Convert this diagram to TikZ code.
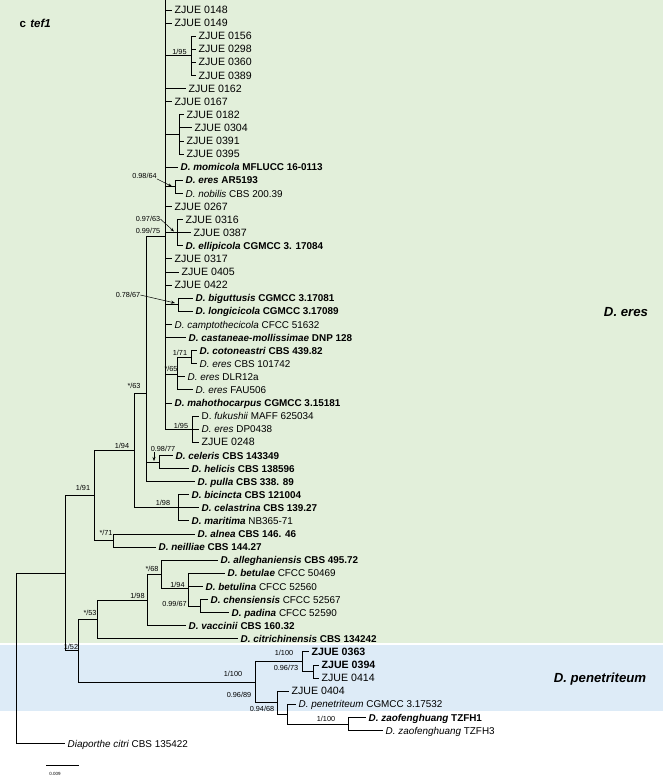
\documentclass[tikz,border=0pt]{standalone}
\usepackage{fontspec}
\setmainfont{Liberation Sans}
\usetikzlibrary{arrows.meta}
\definecolor{bggreen}{HTML}{E2EFDA}
\definecolor{bgblue}{HTML}{DDEBF7}
\newcommand\tb[2]{\textbf{\textit{#1} #2}}
\newcommand\nb[2]{\textit{#1} #2}
\newcommand\hb[2]{\textbf{\textit{#1}} #2}
\tikzset{
  leaf/.style={anchor=west, inner xsep=2.5pt, inner ysep=0pt, text height=7.2pt, text depth=0pt, font=\fontsize{9.9}{11}\selectfont},
  zj/.style={leaf, font=\fontsize{10.6}{12}\selectfont},
  bs/.style={inner sep=0pt, font=\fontsize{7.3}{8}\selectfont},
  br/.style={line width=0.9pt, black},
  arr/.style={line width=0.5pt, -{Stealth[length=4pt,width=3pt]}},
  clade/.style={font=\fontsize{13.2}{15}\selectfont\bfseries\itshape}
}
\begin{document}
\begin{tikzpicture}[x=1pt,y=-1pt]
\useasboundingbox (0,0) rectangle (663,778);
\fill[bggreen] (0,0) rectangle (663,643);
\fill[bgblue] (0,645) rectangle (663,711);

\node[anchor=west, inner sep=0pt, font=\fontsize{11.5}{13}\selectfont\bfseries] (title) at (19.5,23.5) {c\hspace{4.2pt}\textit{tef1}};

% internal nodes
\coordinate (E) at (165,236);
\coordinate (Etop) at (165,0);
\coordinate (Ga) at (191,55.85);
\coordinate (Gb) at (179,134.45);
\coordinate (Gen) at (175,186.85);
\coordinate (Gel) at (177,232.7);
\coordinate (Gbi) at (178,304.75);
\coordinate (G171) at (191,357.15);
\coordinate (G65) at (177,374.6);
\coordinate (Gfu) at (192,429.2);
\coordinate (CH) at (159,461.95);
\coordinate (P) at (146,393.2);
\coordinate (Q) at (178,507.8);
\coordinate (F) at (134,450.5);
\coordinate (G) at (113,540.55);
\coordinate (B) at (94,495.5);
\coordinate (K) at (200,606.05);
\coordinate (J) at (188,588.6);
\coordinate (I) at (161,574.4);
\coordinate (H) at (147,600.05);
\coordinate (D) at (97,619.4);
\coordinate (P2) at (313,671.55);
\coordinate (P1) at (302,661.7);
\coordinate (P5) at (348,723.95);
\coordinate (P4) at (287,714.1);
\coordinate (P3) at (277,702.65);
\coordinate (Pen) at (255,682.2);
\coordinate (C) at (78,650.8);
\coordinate (A) at (65,573.15);
\coordinate (R) at (16,658.4);

% leaves
\node[zj] (l1) at (172,10.0) {ZJUE 0148};
\node[zj] (l2) at (172,23.1) {ZJUE 0149};
\node[zj] (l3) at (196,36.2) {ZJUE 0156};
\node[zj] (l4) at (196,49.3) {ZJUE 0298};
\node[zj] (l5) at (196,62.4) {ZJUE 0360};
\node[zj] (l6) at (196,75.5) {ZJUE 0389};
\node[zj] (l7) at (186,88.6) {ZJUE 0162};
\node[zj] (l8) at (172,101.7) {ZJUE 0167};
\node[zj] (l9) at (184,114.8) {ZJUE 0182};
\node[zj] (l10) at (192,127.9) {ZJUE 0304};
\node[zj] (l11) at (184,141.0) {ZJUE 0391};
\node[zj] (l12) at (184,154.1) {ZJUE 0395};
\node[leaf] (l13) at (178,167.2) {\tb{D. momicola}{MFLUCC 16-0113}};
\node[leaf] (l14) at (183,180.3) {\tb{D. eres}{AR5193}};
\node[leaf] (l15) at (183,193.4) {\nb{D. nobilis}{CBS 200.39}};
\node[zj] (l16) at (172,206.5) {ZJUE 0267};
\node[zj] (l17) at (183,219.6) {ZJUE 0316};
\node[zj] (l18) at (191,232.7) {ZJUE 0387};
\node[leaf] (l19) at (183,245.8) {\tb{D. ellipicola}{CGMCC 3. 17084}};
\node[zj] (l20) at (172,258.9) {ZJUE 0317};
\node[zj] (l21) at (179,272.0) {ZJUE 0405};
\node[zj] (l22) at (172,285.1) {ZJUE 0422};
\node[leaf] (l23) at (193,298.2) {\tb{D. biguttusis}{CGMCC 3.17081}};
\node[leaf] (l24) at (193,311.3) {\tb{D. longicicola}{CGMCC 3.17089}};
\node[leaf] (l25) at (172,324.4) {\nb{D. camptothecicola}{CFCC 51632}};
\node[leaf] (l26) at (186,337.5) {\tb{D. castaneae-mollissimae}{DNP 128}};
\node[leaf] (l27) at (197,350.6) {\tb{D. cotoneastri}{CBS 439.82}};
\node[leaf] (l28) at (197,363.7) {\nb{D. eres}{CBS 101742}};
\node[leaf] (l29) at (185,376.8) {\nb{D. eres}{DLR12a}};
\node[leaf] (l30) at (193,389.9) {\nb{D. eres}{FAU506}};
\node[leaf] (l31) at (172,403.0) {\tb{D. mahothocarpus}{CGMCC 3.15181}};
\node[leaf] (l32) at (199,416.1) {D. \textit{fukushii} MAFF 625034};
\node[leaf] (l33) at (199,429.2) {\nb{D. eres}{DP0438}};
\node[zj] (l34) at (199,442.3) {ZJUE 0248};
\node[leaf] (l35) at (173,455.4) {\tb{D. celeris}{CBS 143349}};
\node[leaf] (l36) at (189,468.5) {\tb{D. helicis}{CBS 138596}};
\node[leaf] (l37) at (195,481.6) {\tb{D. pulla}{CBS 338. 89}};
\node[leaf] (l38) at (189,494.7) {\tb{D. bicincta}{CBS 121004}};
\node[leaf] (l39) at (199,507.8) {\tb{D. celastrina}{CBS 139.27}};
\node[leaf] (l40) at (189,520.9) {\hb{D. maritima}{NB365-71}};
\node[leaf] (l41) at (195,534.0) {\tb{D. alnea}{CBS 146. 46}};
\node[leaf] (l42) at (156,547.1) {\tb{D. neilliae}{CBS 144.27}};
\node[leaf] (l43) at (218,560.2) {\tb{D. alleghaniensis}{CBS 495.72}};
\node[leaf] (l44) at (225,573.3) {\hb{D. betulae}{CFCC 50469}};
\node[leaf] (l45) at (203,586.4) {\hb{D. betulina}{CFCC 52560}};
\node[leaf] (l46) at (208,599.5) {\hb{D. chensiensis}{CFCC 52567}};
\node[leaf] (l47) at (229,612.6) {\hb{D. padina}{CFCC 52590}};
\node[leaf] (l48) at (186,625.7) {\tb{D. vaccinii}{CBS 160.32}};
\node[leaf] (l49) at (238,638.8) {\tb{D. citrichinensis}{CBS 134242}};
\node[zj,font=\fontsize{10.6}{12}\selectfont\bfseries] (l50) at (309,651.9) {ZJUE 0363};
\node[zj,font=\fontsize{10.6}{12}\selectfont\bfseries] (l51) at (319,665.0) {ZJUE 0394};
\node[zj] (l52) at (319,678.1) {ZJUE 0414};
\node[zj] (l53) at (289,691.2) {ZJUE 0404};
\node[leaf] (l54) at (296,704.3) {\nb{D. penetriteum}{CGMCC 3.17532}};
\node[leaf] (l55) at (366,717.4) {\tb{D. zaofenghuang}{TZFH1}};
\node[leaf] (l56) at (383,730.5) {\nb{D. zaofenghuang}{TZFH3}};
\node[leaf] (l57) at (65,743.6) {\nb{Diaporthe citri}{CBS 135422}};

% branches
\draw[br] (E) -- (Etop);
\foreach \n in {l1,l2,l7,l8,l13,l16,l20,l21,l22,l25,l26,l31}
  \draw[br] (E) |- (\n.west);
\draw[br] (E) |- (Ga);
\draw[br] (E) |- (Gb);
\draw[br] (E) |- (Gen);
\draw[br] (E) |- (Gel);
\draw[br] (E) |- (Gbi);
\draw[br] (E) |- (G65);
\draw[br] (E) |- (Gfu);
\foreach \n in {l3,l4,l5,l6} \draw[br] (Ga) |- (\n.west);
\foreach \n in {l9,l10,l11,l12} \draw[br] (Gb) |- (\n.west);
\foreach \n in {l14,l15} \draw[br] (Gen) |- (\n.west);
\foreach \n in {l17,l18,l19} \draw[br] (Gel) |- (\n.west);
\foreach \n in {l23,l24} \draw[br] (Gbi) |- (\n.west);
\foreach \n in {l27,l28} \draw[br] (G171) |- (\n.west);
\draw[br] (G65) |- (G171);
\foreach \n in {l29,l30} \draw[br] (G65) |- (\n.west);
\foreach \n in {l32,l33,l34} \draw[br] (Gfu) |- (\n.west);
\foreach \n in {l35,l36} \draw[br] (CH) |- (\n.west);
\draw[br] (P) |- (E);
\draw[br] (P) |- (CH);
\draw[br] (P) |- (l37.west);
\foreach \n in {l38,l39,l40} \draw[br] (Q) |- (\n.west);
\draw[br] (F) |- (P);
\draw[br] (F) |- (Q);
\foreach \n in {l41,l42} \draw[br] (G) |- (\n.west);
\draw[br] (B) |- (F);
\draw[br] (B) |- (G);
\foreach \n in {l46,l47} \draw[br] (K) |- (\n.west);
\draw[br] (J) |- (l44.west);
\draw[br] (J) |- (l45.west);
\draw[br] (J) |- (K);
\draw[br] (I) |- (l43.west);
\draw[br] (I) |- (J);
\draw[br] (H) |- (I);
\draw[br] (H) |- (l48.west);
\draw[br] (D) |- (H);
\draw[br] (D) |- (l49.west);
\foreach \n in {l51,l52} \draw[br] (P2) |- (\n.west);
\draw[br] (P1) |- (l50.west);
\draw[br] (P1) |- (P2);
\foreach \n in {l55,l56} \draw[br] (P5) |- (\n.west);
\draw[br] (P4) |- (l54.west);
\draw[br] (P4) |- (P5);
\draw[br] (P3) |- (l53.west);
\draw[br] (P3) |- (P4);
\draw[br] (Pen) |- (P1);
\draw[br] (Pen) |- (P3);
\draw[br] (C) |- (D);
\draw[br] (C) |- (Pen);
\draw[br] (A) |- (B);
\draw[br] (A) |- (C);
\draw[br] (R) |- (A);
\draw[br] (R) |- (l57.west);

% support values
\node[bs] (s1) at (179.5,51.5) {1/95};
\node[bs] (s2) at (144.5,176) {0.98/64};
\node[bs] (s3) at (148,219) {0.97/63};
\node[bs] (s4) at (148,231) {0.99/75};
\node[bs] (s5) at (128,295) {0.78/67};
\node[bs] (s6) at (180,353) {1/71};
\node[bs] (s7) at (171,369) {*/65};
\node[bs] (s8) at (181,426) {1/95};
\node[bs] (s9) at (134,386) {*/63};
\node[bs] (s10) at (122,446) {1/94};
\node[bs] (s11) at (163,449) {0.98/77};
\node[bs] (s12) at (163,503) {1/98};
\node[bs] (s13) at (83,488) {1/91};
\node[bs] (s14) at (106,533) {*/71};
\node[bs] (s15) at (152,569) {*/68};
\node[bs] (s16) at (177.5,585) {1/94};
\node[bs] (s17) at (174.5,604) {0.99/67};
\node[bs] (s18) at (137.5,596) {1/98};
\node[bs] (s19) at (90,613) {*/53};
\node[bs] (s20) at (71,647) {1/52};
\node[bs] (s21) at (233,674) {1/100};
\node[bs] (s22) at (239,695) {0.96/89};
\node[bs] (s23) at (284,653) {1/100};
\node[bs] (s24) at (286,668) {0.96/73};
\node[bs] (s25) at (262,709) {0.94/68};
\node[bs] (s26) at (326,719) {1/100};

% arrows from support values
\coordinate (t2) at (172,186.5);
\coordinate (t3) at (174,231.5);
\coordinate (t5) at (175,303);
\coordinate (t11a) at (154,452);
\coordinate (t11b) at (154,461);
\draw[arr] (s2.south east) -- (t2);
\draw[arr] (s3.east) -- (t3);
\draw[arr] (s5.east) -- (t5);
\draw[arr] (t11a) -- (t11b);

% clade labels
\node[clade] (ceres) at (626,312) {D. eres};
\node[clade] (cpen) at (600,679) {D. penetriteum};

% scale bar
\coordinate (sb1) at (46,765);
\coordinate (sb2) at (79,765);
\draw[line width=0.8pt] (sb1) -- (sb2);
\node[inner sep=0pt, font=\fontsize{4.5}{5}\selectfont] (sbl) at (55,773.5) {0.009};
\end{tikzpicture}
\end{document}
